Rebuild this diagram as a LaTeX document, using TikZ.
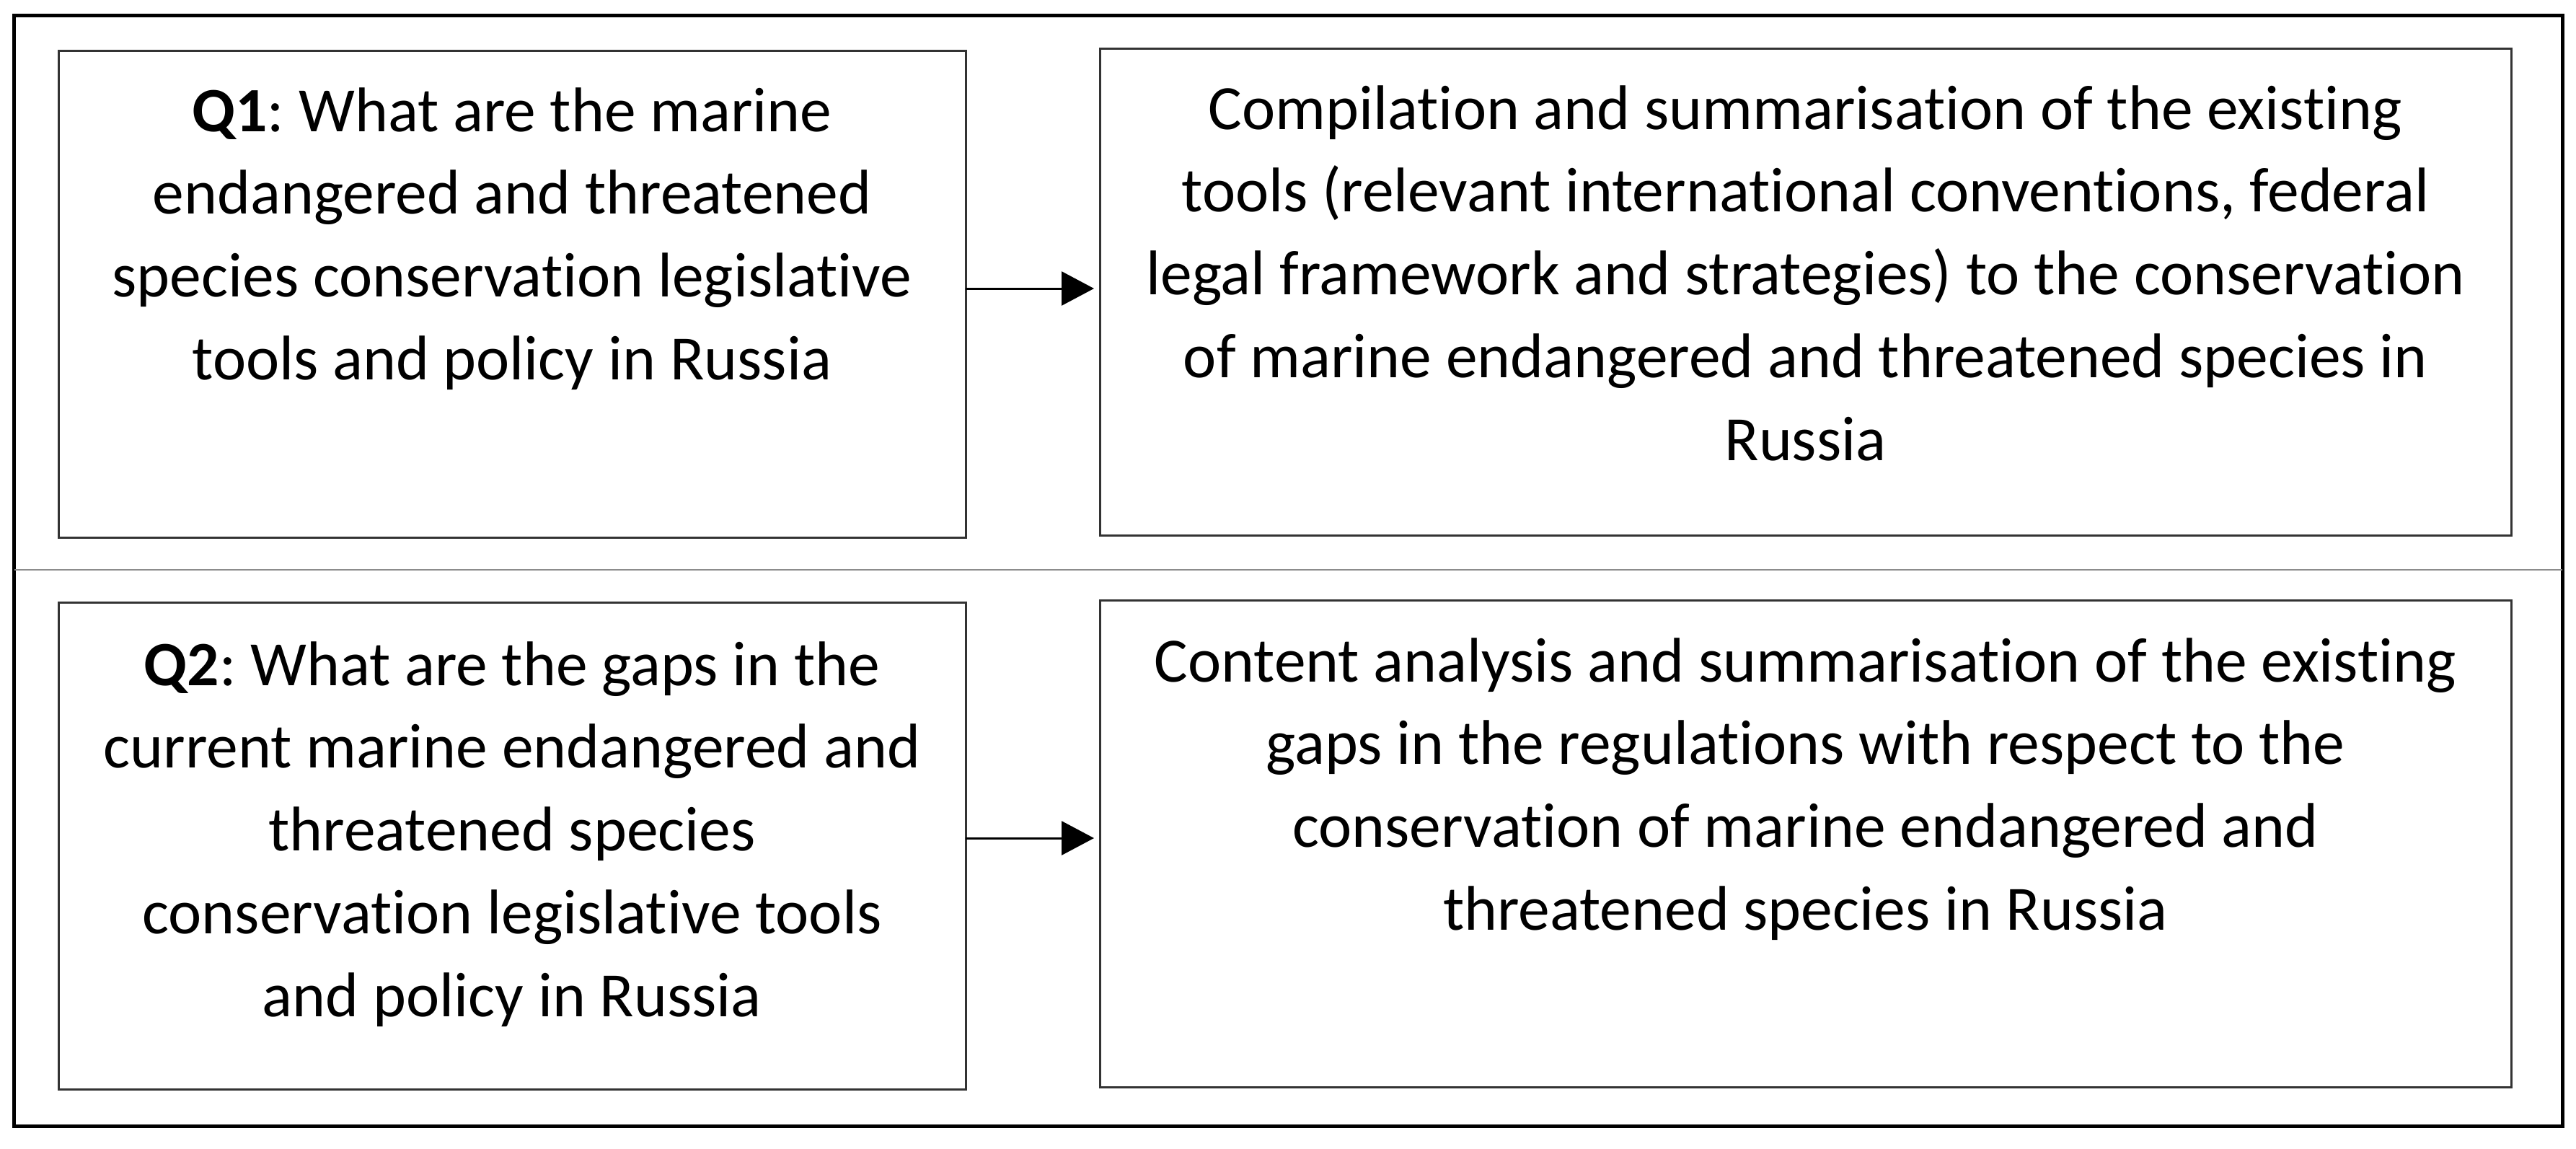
\documentclass[tikz,border=0pt]{standalone}
\usepackage{fontspec}
\setmainfont{Carlito}[Ligatures=NoCommon]
\usetikzlibrary{arrows.meta}
\frenchspacing
\tikzset{
  qbox/.style={draw=black!80, line width=0.03cm, inner sep=0pt, outer sep=0pt},
  arr/.style={line width=0.03cm, -{Triangle[length=0.45cm,width=0.47cm]}, shorten >=0.08cm},
  frame/.style={line width=0.05cm, black},
  divider/.style={line width=0.025cm, black!45}
}
\newcommand{\boxtext}[3]{\parbox[c][6.75cm][t]{#1}{\centering\frenchspacing\fontsize{24.9pt}{32.7pt}\selectfont\rule{0pt}{#2}#3\par}}
\begin{document}
\begin{tikzpicture}
\useasboundingbox (0,0) rectangle (35.72,-15.93);
\draw[frame] (0.20,-0.21) rectangle (35.53,-15.61);
\coordinate (dl) at (0.20,-7.90);
\coordinate (dr) at (35.53,-7.90);
\draw[divider] (dl) -- (dr);

\node[qbox] (q1) at (7.10,-4.075) {\boxtext{12.58cm}{1.12cm}{\textbf{Q1}: What are the marine\\ endangered and threatened\\ species conservation legislative\\ tools and policy in Russia}};
\node[qbox] (a1) at (25.035,-4.045) {\boxtext{19.57cm}{1.12cm}{Compilation and summarisation of the existing\\ tools (relevant international conventions, federal\\ legal framework and strategies) to the conservation\\ of marine endangered and threatened species in\\ Russia}};
\node[qbox] (q2) at (7.10,-11.725) {\boxtext{12.58cm}{1.15cm}{\textbf{Q2}: What are the gaps in the\\ current marine endangered and\\ threatened species\\ conservation legislative tools\\ and policy in Russia}};
\node[qbox] (a2) at (25.035,-11.695) {\boxtext{19.57cm}{1.13cm}{Content analysis and summarisation of the existing\\ gaps in the regulations with respect to the\\ conservation of marine endangered and\\ threatened species in Russia}};

\draw[arr] ([yshift=0.075cm]q1.east) -- ([yshift=0.075cm]q1.east -| a1.west);
\draw[arr] ([yshift=0.105cm]q2.east) -- ([yshift=0.105cm]q2.east -| a2.west);
\end{tikzpicture}
\end{document}
